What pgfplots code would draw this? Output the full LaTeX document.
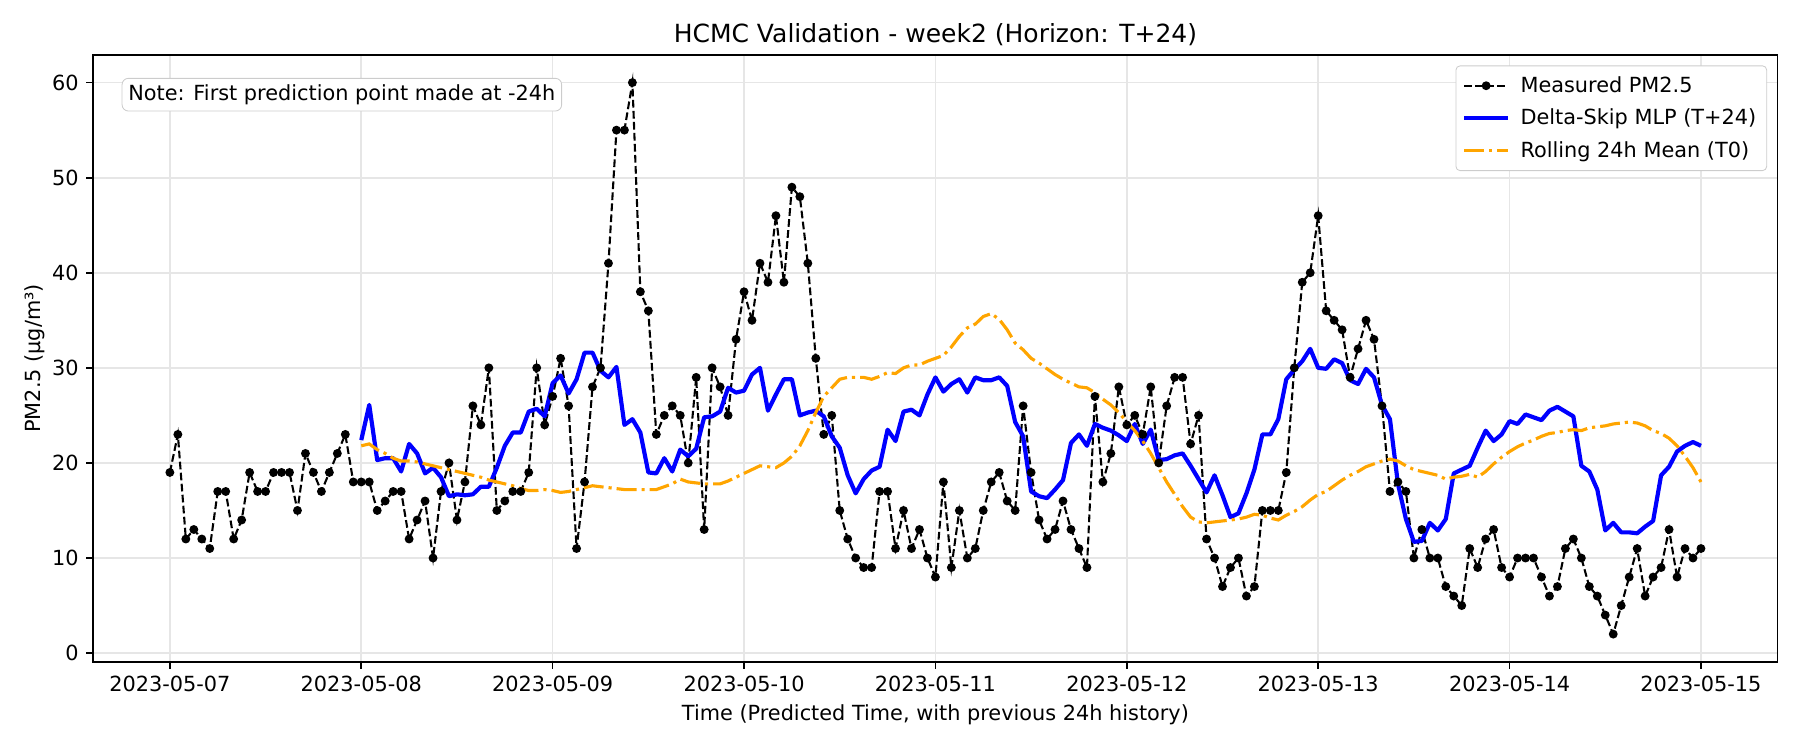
\documentclass[border=0pt]{standalone}
\usepackage{pgfplots}
\pgfplotsset{compat=1.18}
\usepackage{fontspec}
\setmainfont{DejaVu Sans}

\definecolor{gridgray}{RGB}{230,230,230}
\definecolor{framegray}{RGB}{204,204,204}
\definecolor{mplorange}{RGB}{255,165,0}
\definecolor{mplblue}{RGB}{0,0,255}

\pgfplotsset{/pgf/number format/assume math mode=true}

\begin{document}
\begin{tikzpicture}
\begin{axis}[
  at={(0,0)}, anchor=south west,
  scale only axis,
  width=808.4pt, height=291.2pt,
  xmin=-9.6, xmax=201.6,
  ymin=-0.9, ymax=62.9,
  xtick={0,24,48,72,96,120,144,168,192},
  xticklabels={2023-05-07,2023-05-08,2023-05-09,2023-05-10,2023-05-11,2023-05-12,2023-05-13,2023-05-14,2023-05-15},
  ytick={0,10,20,30,40,50,60},
  tick pos=left,
  tick align=outside,
  major tick length=3.5pt,
  tick style={black, line width=0.8pt},
  axis line style={line width=0.8pt},
  grid=major,
  major grid style={gridgray, line width=0.8pt},
  tick label style={font=\fontsize{10}{12}\selectfont},
  title={HCMC Validation - week2 (Horizon: T+24)},
  title style={font=\fontsize{12}{14}\selectfont, at={(rel axis cs:0.5,1)}, anchor=base, yshift=0pt},
  xlabel={Time (Predicted Time, with previous 24h history)},
  ylabel={PM2.5 (µg/m³)},
  label style={font=\fontsize{10}{12}\selectfont},
  xlabel style={at={(rel axis cs:0.5,0)}, anchor=center, yshift=-25.5pt},
  ylabel style={at={(rel axis cs:0,0.5)}, anchor=center, rotate=0, yshift=28.3pt},
  legend cell align=left,
  legend image code/.code={\draw[mark repeat=2,mark phase=2] plot coordinates {(0pt,0pt) (10.5pt,0pt) (21pt,0pt)};},
  legend style={at={(rel axis cs:1,1)}, anchor=north east, xshift=-5pt, yshift=-5pt,
    draw=framegray, rounded corners=2pt, fill=white,
    font=\fontsize{10}{12}\selectfont, row sep=2.5pt, column sep=3pt,
    inner xsep=3pt, inner ysep=3pt},
]

% Measured hourly PM2.5
\addplot[black, line width=1pt, dash pattern=on 3.7pt off 1.6pt,
  mark=*, mark size=1.6pt, mark options={solid}] coordinates {
(0,19)(1,23)(2,12)(3,13)(4,12)(5,11)(6,17)(7,17)(8,12)(9,14)(10,19)(11,17)(12,17)(13,19)(14,19)(15,19)(16,15)(17,21)(18,19)(19,17)(20,19)(21,21)(22,23)(23,18)
(24,18)(25,18)(26,15)(27,16)(28,17)(29,17)(30,12)(31,14)(32,16)(33,10)(34,17)(35,20)(36,14)(37,18)(38,26)(39,24)(40,30)(41,15)(42,16)(43,17)(44,17)(45,19)(46,30)(47,24)
(48,27)(49,31)(50,26)(51,11)(52,18)(53,28)(54,30)(55,41)(56,55)(57,55)(58,60)(59,38)(60,36)(61,23)(62,25)(63,26)(64,25)(65,20)(66,29)(67,13)(68,30)(69,28)(70,25)(71,33)
(72,38)(73,35)(74,41)(75,39)(76,46)(77,39)(78,49)(79,48)(80,41)(81,31)(82,23)(83,25)(84,15)(85,12)(86,10)(87,9)(88,9)(89,17)(90,17)(91,11)(92,15)(93,11)(94,13)(95,10)
(96,8)(97,18)(98,9)(99,15)(100,10)(101,11)(102,15)(103,18)(104,19)(105,16)(106,15)(107,26)(108,19)(109,14)(110,12)(111,13)(112,16)(113,13)(114,11)(115,9)(116,27)(117,18)(118,21)(119,28)
(120,24)(121,25)(122,23)(123,28)(124,20)(125,26)(126,29)(127,29)(128,22)(129,25)(130,12)(131,10)(132,7)(133,9)(134,10)(135,6)(136,7)(137,15)(138,15)(139,15)(140,19)(141,30)(142,39)(143,40)
(144,46)(145,36)(146,35)(147,34)(148,29)(149,32)(150,35)(151,33)(152,26)(153,17)(154,18)(155,17)(156,10)(157,13)(158,10)(159,10)(160,7)(161,6)(162,5)(163,11)(164,9)(165,12)(166,13)(167,9)
(168,8)(169,10)(170,10)(171,10)(172,8)(173,6)(174,7)(175,11)(176,12)(177,10)(178,7)(179,6)(180,4)(181,2)(182,5)(183,8)(184,11)(185,6)(186,8)(187,9)(188,13)(189,8)(190,11)(191,10)(192,11)
};
\addlegendentry{Measured PM2.5}

% Delta-Skip MLP forecast, 24 h ahead
\addplot[mplblue, line width=2pt, line join=round] coordinates {
(24,22.4)(25,26.1)(26,20.3)(27,20.5)(28,20.5)(29,19.1)(30,22.0)(31,21.0)(32,18.9)(33,19.5)(34,18.5)(35,16.5)(36,16.7)(37,16.6)(38,16.7)(39,17.5)(40,17.5)(41,19.5)(42,21.8)(43,23.2)(44,23.2)(45,25.4)(46,25.7)(47,24.9)
(48,28.4)(49,29.2)(50,27.3)(51,28.8)(52,31.6)(53,31.6)(54,29.7)(55,29.0)(56,30.1)(57,24.0)(58,24.6)(59,23.2)(60,19.0)(61,18.9)(62,20.5)(63,19.1)(64,21.4)(65,20.7)(66,21.5)(67,24.8)(68,24.9)(69,25.4)(70,27.9)(71,27.4)
(72,27.6)(73,29.3)(74,30.0)(75,25.5)(76,27.2)(77,28.8)(78,28.8)(79,25.0)(80,25.3)(81,25.5)(82,24.9)(83,22.8)(84,21.6)(85,18.7)(86,16.8)(87,18.3)(88,19.2)(89,19.6)(90,23.5)(91,22.3)(92,25.4)(93,25.6)(94,25.0)(95,27.2)
(96,29.0)(97,27.5)(98,28.3)(99,28.8)(100,27.4)(101,29.0)(102,28.7)(103,28.7)(104,29.0)(105,28.1)(106,24.3)(107,22.8)(108,17.0)(109,16.5)(110,16.3)(111,17.2)(112,18.2)(113,22.1)(114,23.0)(115,21.8)(116,24.1)(117,23.7)(118,23.4)(119,22.9)
(120,22.3)(121,24.1)(122,22.0)(123,23.5)(124,20.3)(125,20.4)(126,20.8)(127,21.0)(128,19.7)(129,18.3)(130,16.9)(131,18.7)(132,16.6)(133,14.3)(134,14.7)(135,16.8)(136,19.3)(137,23.0)(138,23.0)(139,24.6)(140,28.8)(141,29.8)(142,30.7)(143,32.0)
(144,30.0)(145,29.9)(146,30.9)(147,30.5)(148,28.7)(149,28.3)(150,29.9)(151,29.0)(152,26.1)(153,24.6)(154,17.8)(155,14.1)(156,11.7)(157,11.8)(158,13.7)(159,12.9)(160,14.1)(161,18.9)(162,19.3)(163,19.7)(164,21.6)(165,23.4)(166,22.3)(167,23.0)
(168,24.4)(169,24.1)(170,25.1)(171,24.8)(172,24.5)(173,25.5)(174,25.9)(175,25.4)(176,24.9)(177,19.7)(178,19.1)(179,17.2)(180,12.9)(181,13.7)(182,12.7)(183,12.7)(184,12.6)(185,13.3)(186,13.9)(187,18.7)(188,19.6)(189,21.2)(190,21.8)(191,22.2)(192,21.8)
};
\addlegendentry{Delta-Skip MLP (T+24)}

% Rolling 24 h mean baseline
\addplot[mplorange, line width=1.5pt, dash pattern=on 9.6pt off 2.4pt on 1.5pt off 2.4pt] coordinates {
(24,21.8)(25,22.0)(26,21.4)(27,21.0)(28,20.5)(29,20.2)(30,20.2)(31,20.1)(32,19.9)(33,19.7)(34,19.5)(35,19.3)(36,19.1)(37,18.9)(38,18.7)(39,18.5)(40,18.2)(41,18.0)(42,17.8)(43,17.6)(44,17.3)(45,17.1)(46,17.1)(47,17.2)
(48,17.1)(49,16.9)(50,17.0)(51,17.2)(52,17.4)(53,17.6)(54,17.5)(55,17.4)(56,17.3)(57,17.2)(58,17.2)(59,17.2)(60,17.2)(61,17.2)(62,17.5)(63,17.8)(64,18.3)(65,18.0)(66,17.9)(67,17.8)(68,17.8)(69,17.8)(70,18.1)(71,18.5)
(72,18.9)(73,19.3)(74,19.7)(75,19.6)(76,19.5)(77,20.0)(78,20.7)(79,21.8)(80,23.4)(81,25.3)(82,27.0)(83,27.9)(84,28.8)(85,29.0)(86,29.0)(87,29.0)(88,28.8)(89,29.1)(90,29.5)(91,29.4)(92,30.0)(93,30.3)(94,30.3)(95,30.7)
(96,31.0)(97,31.3)(98,32.2)(99,33.3)(100,34.2)(101,34.6)(102,35.4)(103,35.7)(104,35.1)(105,34.0)(106,32.6)(107,31.9)(108,31.0)(109,30.5)(110,29.9)(111,29.3)(112,28.8)(113,28.4)(114,28.0)(115,27.9)(116,27.4)(117,26.7)(118,26.1)(119,25.3)
(120,24.3)(121,23.4)(122,22.3)(123,21.0)(124,19.5)(125,18.0)(126,16.7)(127,15.4)(128,14.3)(129,13.8)(130,13.7)(131,13.8)(132,13.9)(133,14.0)(134,14.1)(135,14.3)(136,14.6)(137,14.5)(138,14.2)(139,14.0)(140,14.5)(141,14.9)(142,15.4)(143,16.1)
(144,16.7)(145,17.0)(146,17.6)(147,18.2)(148,18.7)(149,19.1)(150,19.6)(151,19.9)(152,20.2)(153,20.4)(154,20.2)(155,19.7)(156,19.3)(157,19.1)(158,18.9)(159,18.7)(160,18.3)(161,18.5)(162,18.6)(163,18.8)(164,18.5)(165,19.1)(166,19.9)(167,20.6)
(168,21.2)(169,21.7)(170,22.1)(171,22.4)(172,22.8)(173,23.1)(174,23.2)(175,23.4)(176,23.5)(177,23.4)(178,23.7)(179,23.8)(180,23.9)(181,24.1)(182,24.2)(183,24.3)(184,24.2)(185,23.9)(186,23.4)(187,23.1)(188,22.6)(189,21.8)(190,20.7)(191,19.5)(192,18.0)
};
\addlegendentry{Rolling 24h Mean (T0)}

\node[anchor=north west, draw=framegray, fill=white, rounded corners=3pt,
  inner xsep=3pt, inner ysep=3pt, font=\fontsize{10}{12}\selectfont]
  at ([xshift=13.6pt, yshift=-11pt]rel axis cs:0,1) {Note: First prediction point made at -24h};
\end{axis}
\pgfresetboundingbox
\path[use as bounding box] (-44.8pt,-42.4pt) rectangle (819.2pt,317.6pt);
\end{tikzpicture}
\end{document}
